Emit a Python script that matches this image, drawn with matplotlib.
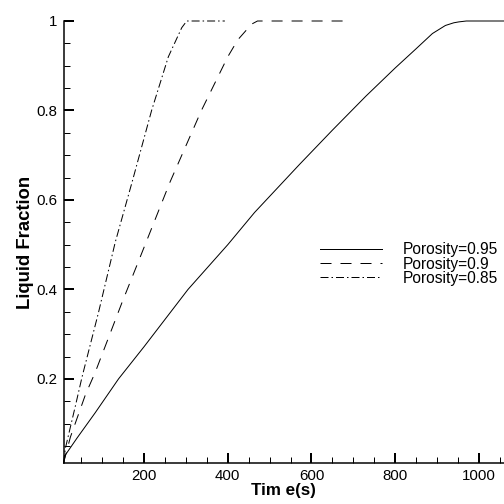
import matplotlib
matplotlib.use("Agg")
import matplotlib.pyplot as plt
from matplotlib.ticker import MultipleLocator, FixedLocator

plt.rcParams["font.family"] = ["Liberation Sans", "DejaVu Sans"]

# Porosity = 0.95 (solid)
time_095 = [7.5, 12, 40, 83, 139, 200, 305, 400, 464, 571, 650, 730, 800, 850,
            889, 920, 940, 952, 970, 1060]
frac_095 = [0.012, 0.03, 0.068, 0.124, 0.2, 0.272, 0.40, 0.50, 0.572, 0.679,
            0.756, 0.832, 0.895, 0.938, 0.972, 0.99, 0.996, 0.998, 1.0, 1.0]

# Porosity = 0.9 (dashed)
time_090 = [7.5, 24, 60, 83, 147, 194, 262, 337, 400, 424, 457, 471, 685]
frac_090 = [0.012, 0.07, 0.165, 0.214, 0.37, 0.48, 0.64, 0.80, 0.92, 0.958,
            0.993, 1.0, 1.0]

# Porosity = 0.85 (dash-dot)
time_085 = [7.5, 12, 36, 52, 91, 131, 172, 218, 258, 290, 302, 393]
frac_085 = [0.012, 0.045, 0.14, 0.205, 0.348, 0.505, 0.642, 0.80, 0.92, 0.985,
            1.0, 1.0]

labels = ["Porosity=0.95", "Porosity=0.9", "Porosity=0.85"]
x_ticks = [200, 400, 600, 800, 1000]
y_ticks = [0.2, 0.4, 0.6, 0.8, 1.0]
y_ticklabels = ["0.2", "0.4", "0.6", "0.8", "1"]

fig = plt.figure(figsize=(7, 7), dpi=72)
ax = fig.add_axes([63.5 / 504, 41 / 504, 1 - 63.5 / 504, 442 / 504])

ax.plot(time_095, frac_095, color="black", lw=1.0, ls="-", label=labels[0], clip_on=False)
ax.plot(time_090, frac_090, color="black", lw=1.0, ls=(0, (11, 9)), label=labels[1], clip_on=False)
ax.plot(time_085, frac_085, color="black", lw=1.0, ls=(0, (8, 3, 1.5, 3)), label=labels[2], clip_on=False)

ax.set_xlim(7.5, 1060)
ax.set_ylim(0.012, 1.0)

for side in ["top", "right"]:
    ax.spines[side].set_visible(False)
for side in ["left", "bottom"]:
    ax.spines[side].set_linewidth(1.5)

ax.xaxis.set_major_locator(FixedLocator(x_ticks))
ax.xaxis.set_minor_locator(MultipleLocator(50))
ax.set_yticks(y_ticks)
ax.set_yticklabels(y_ticklabels)
ax.yaxis.set_minor_locator(MultipleLocator(0.05))
ax.tick_params(which="major", direction="in", length=10, width=2, labelsize=15, pad=6)
ax.tick_params(which="minor", direction="in", length=6, width=1)

ax.set_xlabel("Tim e(s)", fontsize=17, fontweight="bold", labelpad=0)
ax.set_ylabel("Liquid Fraction", fontsize=18.5, fontweight="bold", labelpad=2)

ax.legend(loc="center left", bbox_to_anchor=(320 / 504, 1 - 264 / 504),
          bbox_transform=fig.transFigure, frameon=False, fontsize=15.5,
          handlelength=4.0, handletextpad=1.35, labelspacing=-0.05,
          borderpad=0, borderaxespad=0)

fig.savefig("out.png", dpi=72)
